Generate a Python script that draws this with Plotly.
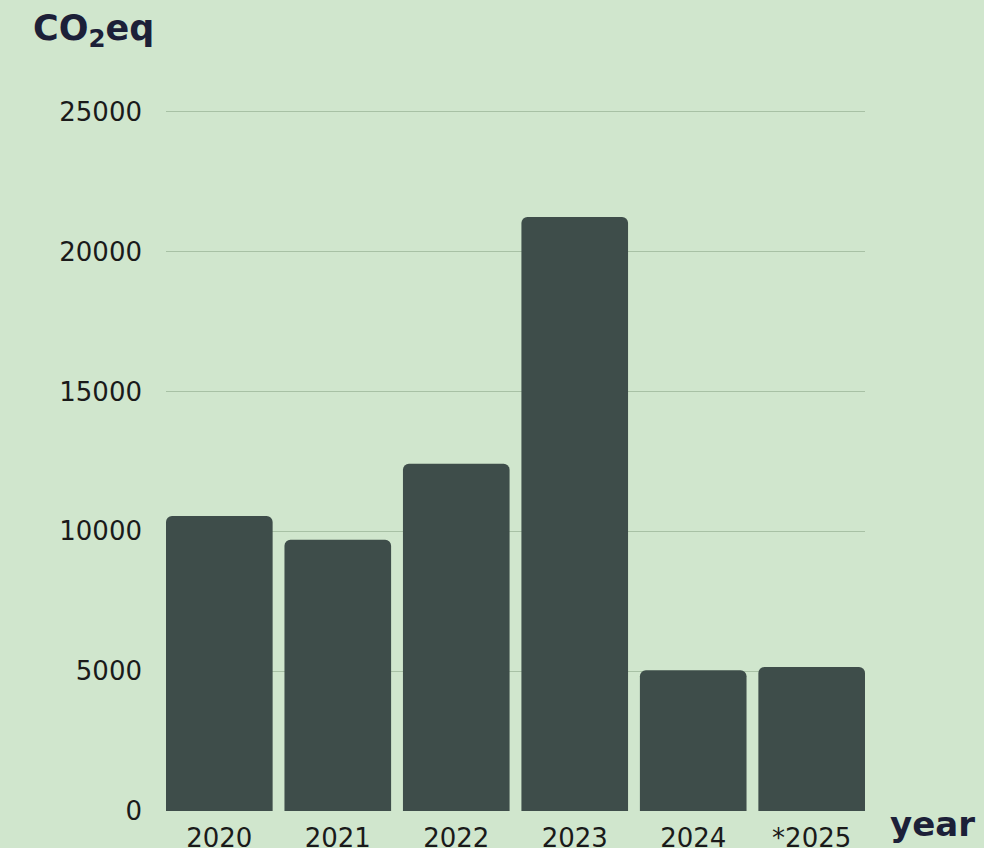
import plotly.graph_objects as go

years = ["2020", "2021", "2022", "2023", "2024", "*2025"]
co2eq = [10550, 9700, 12420, 21240, 5030, 5150]
y_ticks = [0, 5000, 10000, 15000, 20000, 25000]
y_tick_labels = ["0", "5000", "10000", "15000", "20000", "25000"]

BG = "#d0e6cd"
BAR = "#3e4d4a"
GRID = "#a8c1a5"
DARK = "#1c2038"
FONT = "DejaVu Sans"

W, H = 984, 848
L, R, T, B = 166, 119, 109, 37
pw, ph = W - L - R, H - T - B
YMAX = 25100


def py(pix):
    # convert a pixel row to paper y
    return (H - B - pix) / ph


fig = go.Figure(go.Bar(x=years, y=co2eq, marker=dict(color=BAR, line=dict(width=0))))

fig.update_layout(
    width=W, height=H,
    margin=dict(l=L, r=R, t=T, b=B, pad=0),
    paper_bgcolor=BG, plot_bgcolor=BG,
    bargap=0.1, barcornerradius=6,
    font=dict(family=FONT, color="#1a1a1a", size=26),
    showlegend=False,
    xaxis=dict(range=[-0.45, 5.45], showgrid=False, showline=False, zeroline=False,
               automargin=False, ticks="", ticklabelstandoff=9,
               tickfont=dict(size=26, color="#1a1a1a")),
    yaxis=dict(range=[0, YMAX], tickvals=y_ticks, ticktext=y_tick_labels,
               showgrid=True, gridcolor=GRID, gridwidth=1, automargin=False,
               zeroline=False, showline=False, ticks="", ticklabelstandoff=23,
               tickfont=dict(size=26, color="#1a1a1a")),
    annotations=[
        dict(text="<b>CO<sub>2</sub>eq</b>", xref="paper", yref="paper",
             x=(31 - L) / pw, y=py(30), xanchor="left", yanchor="middle",
             showarrow=False, font=dict(size=35, color=DARK, family=FONT)),
        dict(text="<b>year</b>", xref="paper", yref="paper",
             x=(888 - L) / pw, y=py(824), xanchor="left", yanchor="middle",
             showarrow=False, font=dict(size=34, color=DARK, family=FONT)),
    ],
)

fig.write_html("out.html", config={"displayModeBar": False},
               post_script="document.body.style.margin='0';document.body.style.overflow='hidden';")
